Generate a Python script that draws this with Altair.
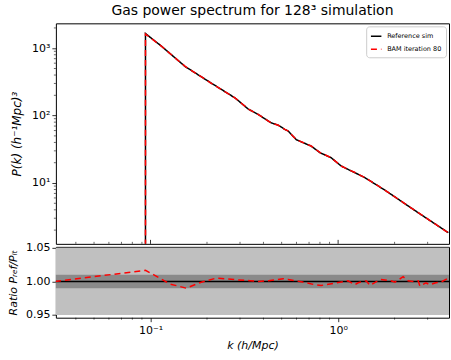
import altair as alt
import pandas as pd

# ---------------- data ----------------
k_ref = [0.094, 0.094, 0.1145, 0.153, 0.211, 0.283, 0.332, 0.375, 0.409, 0.44, 0.48, 0.52,
         0.542, 0.598, 0.718, 0.802, 0.918, 1.037, 1.13, 1.23, 1.39, 1.78, 2.12, 2.7, 3.87]
p_ref = [0.01, 1650, 1070, 535, 303, 182, 125, 104, 89, 78, 72, 62.5,
         59, 44, 35.3, 28.1, 23.7, 17.9, 15.9, 14.2, 12.0, 7.8, 5.6, 3.55, 1.83]
p_bam = [0.01, 1625, 1068, 537, 302, 182, 125, 104, 89, 78, 72, 62.3,
         59, 44, 35.4, 28.2, 23.8, 17.9, 15.9, 14.3, 12.0, 7.8, 5.6, 3.56, 1.82]

k_ratio = [0.031, 0.094, 0.1037, 0.1276, 0.155, 0.1845, 0.2244, 0.286, 0.34, 0.375, 0.425,
           0.51, 0.542, 0.636, 0.755, 0.812, 0.94, 1.089, 1.13, 1.23, 1.28, 1.41, 1.48,
           1.63, 1.69, 1.91, 2.01, 2.22, 2.36, 2.5, 2.67, 2.73, 2.94, 3.08, 3.32, 3.53, 3.88]
ratio = [1.0, 1.0165, 1.010, 0.996, 0.990, 0.9985, 1.005, 1.0025, 1.001, 1.0, 1.001,
         1.004, 1.003, 0.9995, 0.995, 0.994, 0.997, 1.0, 1.001, 0.995, 0.998, 1.001, 0.994,
         1.001, 1.003, 1.001, 0.999, 1.007, 1.001, 1.0, 1.001, 0.993, 0.998, 0.995, 0.998,
         0.999, 1.005]
ratio_ref_level = [1.0]

band_outer = [0.95, 1.05]
band_inner = [0.99, 1.01]

series_names = ["Reference sim", "BAM iteration 80"]
series_colors = ["#000000", "#ff0000"]

x_major = [0.1, 1.0]
x_minor = [0.04, 0.05, 0.06, 0.07, 0.08, 0.09, 0.2, 0.3, 0.4, 0.5, 0.6, 0.7, 0.8, 0.9, 2.0, 3.0]
y_major = [10, 100, 1000]
y_minor = [2, 3, 4, 5, 6, 7, 8, 9, 20, 30, 40, 50, 60, 70, 80, 90,
           200, 300, 400, 500, 600, 700, 800, 900, 2000]
ratio_ticks = [0.95, 1.0, 1.05]

x_domain = [0.0313, 3.9]
p_domain = [1.25, 2340]
r_domain = [0.946, 1.0515]

W = 394
H_TOP = 221
H_BOT = 71

# ---------------- frames ----------------
df_ref = pd.DataFrame({"k": k_ref, "P": p_ref, "series": series_names[0], "i": range(len(k_ref))})
df_bam = pd.DataFrame({"k": k_ref, "P": p_bam, "series": series_names[1], "i": range(len(k_ref))})
df_ratio = pd.DataFrame({"k": k_ratio, "ratio": ratio, "series": series_names[1]})

xscale = alt.Scale(type="log", domain=x_domain, nice=False, zero=False)
pscale = alt.Scale(type="log", domain=p_domain, nice=False, zero=False)
rscale = alt.Scale(domain=r_domain, nice=False, zero=False)

color = alt.Color("series:N", scale=alt.Scale(domain=series_names, range=series_colors),
                  legend=alt.Legend(title=None, orient="top-right", offset=3))
dash = alt.StrokeDash("series:N", scale=alt.Scale(domain=series_names, range=[[1, 0], [6, 4]]),
                      legend=alt.Legend(title=None, orient="top-right", offset=3))

y_axis = alt.Axis(values=y_major, title="P(k) (h⁻¹Mpc)³", tickSize=4, labelOverlap=False,
                  labelExpr="datum.value == 10 ? '10¹' : datum.value == 100 ? '10²' : '10³'",
                  titlePadding=8, titleFontSize=12)

ref_line = alt.Chart(df_ref).mark_line(strokeWidth=1.5, clip=True).encode(
    x=alt.X("k:Q", scale=xscale, axis=None),
    y=alt.Y("P:Q", scale=pscale, axis=y_axis),
    color=color, strokeDash=dash, order="i:Q")
bam_line = alt.Chart(df_bam).mark_line(strokeWidth=1.5, clip=True).encode(
    x=alt.X("k:Q", scale=xscale, axis=None),
    y=alt.Y("P:Q", scale=pscale, axis=y_axis),
    color=color, strokeDash=dash, order="i:Q")

tx_major = alt.Chart(pd.DataFrame({"k": x_major})).mark_rule(color="black", strokeWidth=0.8).encode(
    x=alt.X("k:Q", scale=xscale, axis=None), y=alt.value(H_TOP - 4), y2=alt.value(H_TOP))
tx_minor = alt.Chart(pd.DataFrame({"k": x_minor})).mark_rule(color="black", strokeWidth=0.6).encode(
    x=alt.X("k:Q", scale=xscale, axis=None), y=alt.value(H_TOP - 2), y2=alt.value(H_TOP))
ty_minor = alt.Chart(pd.DataFrame({"P": y_minor})).mark_rule(color="black", strokeWidth=0.6).encode(
    y=alt.Y("P:Q", scale=pscale, axis=y_axis), x=alt.value(-2), x2=alt.value(0))

top = alt.layer(ref_line, bam_line, tx_major, tx_minor, ty_minor).properties(
    width=W, height=H_TOP,
    title=alt.TitleParams("Gas power spectrum for 128³ simulation", fontSize=14,
                          fontWeight="normal", anchor="middle", frame="group", offset=5,
                          color="black"))

# ---------------- ratio panel ----------------
x_axis = alt.Axis(values=x_major, title="k (h/Mpc)", tickSize=4, labelOverlap=False,
                  labelExpr="datum.value < 0.5 ? '10⁻¹' : '10⁰'", labelPadding=3)
r_axis = alt.Axis(values=ratio_ticks, format=".2f", title="Ratio Pᵣₑf/Pᵢₜ", tickSize=4,
                  titlePadding=7, labelOverlap=False, labelBound=False, labelFlush=False)

outer = alt.Chart(pd.DataFrame({"ratio": [band_outer[0]], "ratio2": [band_outer[1]]})).mark_rect(
    color="#c0c0c0").encode(y=alt.Y("ratio:Q", scale=rscale, axis=r_axis), y2="ratio2:Q",
                            x=alt.value(0), x2=alt.value(W))
inner = alt.Chart(pd.DataFrame({"ratio": [band_inner[0]], "ratio2": [band_inner[1]]})).mark_rect(
    color="#8a8a8a").encode(y=alt.Y("ratio:Q", scale=rscale, axis=r_axis), y2="ratio2:Q",
                            x=alt.value(0), x2=alt.value(W))
one = alt.Chart(pd.DataFrame({"ratio": ratio_ref_level})).mark_rule(color="black", strokeWidth=1.5).encode(
    y=alt.Y("ratio:Q", scale=rscale, axis=r_axis), x=alt.value(0), x2=alt.value(W))
rline = alt.Chart(df_ratio).mark_line(color="red", strokeWidth=1.5, strokeDash=[6, 4], clip=True).encode(
    x=alt.X("k:Q", scale=xscale, axis=x_axis),
    y=alt.Y("ratio:Q", scale=rscale, axis=r_axis))
bx_minor = alt.Chart(pd.DataFrame({"k": x_minor})).mark_rule(color="black", strokeWidth=0.6).encode(
    x=alt.X("k:Q", scale=xscale, axis=x_axis), y=alt.value(H_BOT), y2=alt.value(H_BOT + 2))

bottom = alt.layer(outer, inner, one, rline, bx_minor).properties(width=W, height=H_BOT)

chart = alt.vconcat(top, bottom, spacing=3, bounds="flush").properties(
    padding={"left": 7, "top": 3, "right": 0, "bottom": 4}
).configure(font="DejaVu Sans").configure_view(
    stroke="black", strokeWidth=1
).configure_axis(
    domain=False, grid=False, tickColor="black", tickWidth=0.8, labelOverlap=False,
    labelFont="DejaVu Sans", labelFontSize=11, labelColor="black",
    titleFont="DejaVu Sans", titleFontSize=11, titleFontWeight="normal",
    titleFontStyle="italic", titleColor="black"
).configure_legend(
    labelFont="DejaVu Sans", labelFontSize=6.5, labelColor="black",
    symbolType="stroke", symbolSize=110, symbolStrokeWidth=1.5,
    strokeColor="#cccccc", fillColor="white", cornerRadius=3, padding=4,
    rowPadding=3, labelOffset=5
).configure_title(font="DejaVu Sans")

chart.save("out.html", embed_options={"renderer": "svg", "actions": False})
